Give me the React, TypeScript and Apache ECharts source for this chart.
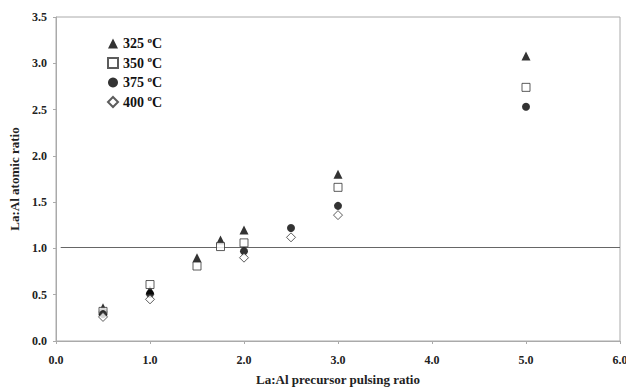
import React, { useEffect, useRef } from "react";
import * as echarts from "echarts";

const seriesNames = ["325", "350", "375", "400"];
const s325: [number, number][] = [[0.5, 0.36], [1.0, 0.55], [1.5, 0.9], [1.75, 1.09], [2.0, 1.2], [3.0, 1.8], [5.0, 3.08]];
const s350: [number, number][] = [[0.5, 0.32], [1.0, 0.61], [1.5, 0.81], [1.75, 1.02], [2.0, 1.06], [3.0, 1.66], [5.0, 2.74]];
const s375: [number, number][] = [[0.5, 0.29], [1.0, 0.51], [2.0, 0.97], [2.5, 1.22], [3.0, 1.46], [5.0, 2.53]];
const s400: [number, number][] = [[0.5, 0.26], [1.0, 0.45], [2.0, 0.9], [2.5, 1.12], [3.0, 1.36]];
const refLineY = 1.01;
const xTicks = [0, 1, 2, 3, 4, 5, 6];

export default function App() {
  const ref = useRef<HTMLDivElement>(null);
  useEffect(() => {
    const chart = echarts.init(ref.current!, null, { renderer: "svg" });
    const font = "Liberation Serif";
    const mk = (name: string, data: [number, number][], symbol: string, size: number, filled: boolean) => ({
      name,
      type: "scatter",
      data,
      symbol,
      symbolSize: size,
      itemStyle: filled
        ? { color: "#000" }
        : { color: "#fff", borderColor: "#333", borderWidth: 1 },
      z: 3,
    });
    chart.setOption({
      animation: false,
      backgroundColor: "#fff",
      grid: {
        left: 56,
        right: 6,
        top: 17,
        bottom: 49,
        containLabel: false,
        outerBoundsMode: "none",
        show: true,
        borderColor: "#aaa",
        borderWidth: 1,
      },
      legend: {
        orient: "vertical",
        left: 102,
        top: 30,
        itemGap: 4,
        itemWidth: 10,
        itemHeight: 10,
        data: seriesNames,
        formatter: (n: string) => `${n} {sup|o}C`,
        textStyle: {
          fontFamily: font,
          fontWeight: "bold",
          fontSize: 14,
          color: "#111",
          rich: { sup: { fontSize: 9, fontFamily: font, fontWeight: "bold", verticalAlign: "top", padding: [0, 0, 8, 0] } },
        },
      },
      xAxis: {
        type: "value",
        min: 0,
        max: 6,
        interval: 1,
        axisLine: { show: true, lineStyle: { color: "#aaa" } },
        axisTick: { show: true, length: 3, lineStyle: { color: "#aaa" } },
        splitLine: { show: false },
        axisLabel: {
          fontFamily: font,
          fontWeight: "bold",
          fontSize: 12,
          color: "#222",
          margin: 13,
          formatter: (v: number) => v.toFixed(1),
        },
        name: "La:Al precursor pulsing ratio",
        nameLocation: "middle",
        nameGap: 32,
        nameTextStyle: { fontFamily: font, fontWeight: "bold", fontSize: 13, color: "#222" },
      },
      yAxis: {
        type: "value",
        min: 0,
        max: 3.5,
        interval: 0.5,
        axisLine: { show: true, lineStyle: { color: "#aaa" } },
        axisTick: { show: true, length: 3, lineStyle: { color: "#aaa" } },
        splitLine: { show: false },
        axisLabel: {
          fontFamily: font,
          fontWeight: "bold",
          fontSize: 12,
          color: "#222",
          margin: 9,
          formatter: (v: number) => v.toFixed(1),
        },
        name: "La:Al atomic ratio",
        nameLocation: "middle",
        nameGap: 33,
        nameTextStyle: { fontFamily: font, fontWeight: "bold", fontSize: 13, color: "#222" },
      },
      series: [
        {
          type: "line",
          data: [[0.05, refLineY], [xTicks[xTicks.length - 1], refLineY]],
          symbol: "none",
          lineStyle: { color: "#666", width: 1 },
          silent: true,
          z: 1,
        },
        mk("325", s325, "triangle", 9, true),
        mk("350", s350, "rect", 8, false),
        mk("375", s375, "circle", 8, true),
        mk("400", s400, "diamond", 9, false),
      ],
    });
    return () => chart.dispose();
  }, []);
  return <div ref={ref} style={{ width: 626, height: 390, position: "absolute", left: 0, top: 0 }} />;
}
